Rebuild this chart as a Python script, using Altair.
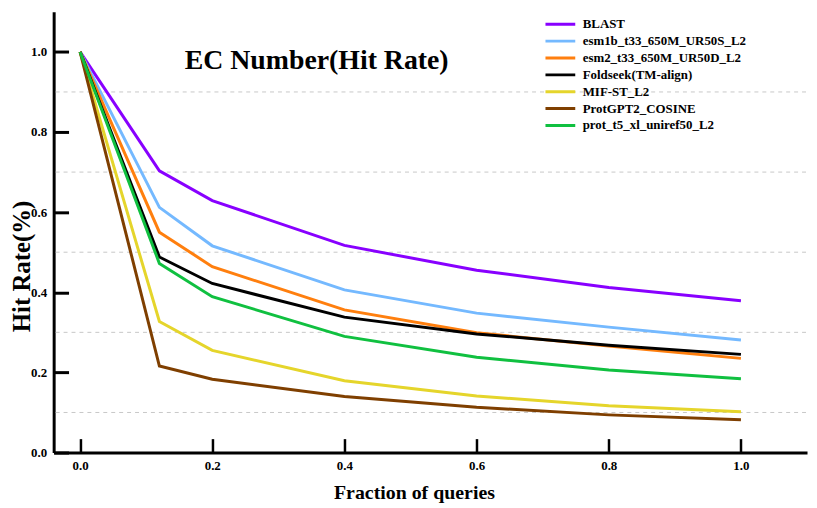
import altair as alt
import pandas as pd

# ---- data ----
fractions = [0.0, 0.12, 0.2, 0.4, 0.6, 0.8, 1.0]
series_names = [
    "BLAST",
    "esm1b_t33_650M_UR50S_L2",
    "esm2_t33_650M_UR50D_L2",
    "Foldseek(TM-align)",
    "MIF-ST_L2",
    "ProtGPT2_COSINE",
    "prot_t5_xl_uniref50_L2",
]
blast = [1.0, 0.703, 0.629, 0.517, 0.455, 0.412, 0.379]
esm1b = [1.0, 0.612, 0.516, 0.406, 0.348, 0.313, 0.281]
esm2 = [1.0, 0.550, 0.464, 0.356, 0.299, 0.266, 0.235]
foldseek = [1.0, 0.488, 0.422, 0.338, 0.296, 0.268, 0.245]
mifst = [1.0, 0.327, 0.255, 0.179, 0.141, 0.117, 0.102]
protgpt2 = [1.0, 0.216, 0.183, 0.140, 0.113, 0.094, 0.082]
prott5 = [1.0, 0.472, 0.389, 0.290, 0.238, 0.206, 0.184]
colors = ["#8800ff", "#74b9ff", "#ff7f0e", "#000000", "#e5d52b", "#7f3f00", "#10c040"]

x_ticks = [0.0, 0.2, 0.4, 0.6, 0.8, 1.0]
y_ticks = [0.0, 0.2, 0.4, 0.6, 0.8, 1.0]
grid_vals = [0.1, 0.3, 0.5, 0.7, 0.9]
title_text = "EC Number(Hit Rate)"

all_series = [blast, esm1b, esm2, foldseek, mifst, protgpt2, prott5]
rows = []
for name, vals in zip(series_names, all_series):
    for fx, v in zip(fractions, vals):
        rows.append({"series": name, "x": fx, "y": v})
df = pd.DataFrame(rows)

W, H = 759, 444
FONT = "Liberation Serif"

xscale = alt.Scale(domain=[-0.04, 1.1], nice=False, zero=False)
yscale = alt.Scale(domain=[0, 1.1], nice=False)

# inward-pointing ticks: negative tick size given as an expression,
# label padding enlarged by the same amount to keep labels outside
lines = alt.Chart(df).mark_line(strokeWidth=3).encode(
    x=alt.X("x:Q", scale=xscale,
            axis=alt.Axis(values=x_ticks, format=".1f", grid=False,
                          ticks=True, tickSize={"expr": "-14"}, tickWidth=2.5,
                          tickColor="black",
                          domainWidth=3, domainColor="black",
                          labelFont=FONT, labelFontWeight="bold", labelFontSize=13,
                          labelColor="black", labelPadding=21,
                          title="Fraction of queries", titleFont=FONT,
                          titleFontWeight="bold", titleFontSize=20, titleColor="black",
                          titleX=363, titleY=40, titleBaseline="middle")),
    y=alt.Y("y:Q", scale=yscale,
            axis=alt.Axis(values=y_ticks, format=".1f", grid=False,
                          ticks=True, tickSize={"expr": "-15"}, tickWidth=3,
                          tickColor="black",
                          domainWidth=3, domainColor="black",
                          labelFont=FONT, labelFontWeight="bold", labelFontSize=13,
                          labelColor="black", labelPadding=22,
                          title="Hit Rate(%)", titleFont=FONT,
                          titleFontWeight="bold", titleFontSize=25, titleColor="black",
                          titleX=-32, titleY=256, titleBaseline="middle")),
    color=alt.Color("series:N",
                    scale=alt.Scale(domain=series_names, range=colors),
                    legend=alt.Legend(orient="none", legendX=494, legendY=4,
                                      title=None, symbolType="stroke",
                                      symbolSize=900, symbolStrokeWidth=3,
                                      clipHeight=17, labelOffset=6,
                                      labelLimit=400,
                                      labelFont=FONT, labelFontWeight="bold",
                                      labelFontSize=13, labelColor="black",
                                      rowPadding=0, padding=0)),
)

grid = alt.Chart(pd.DataFrame({"gridval": grid_vals})).mark_rule(
    color="#c8c8c8", strokeWidth=1, strokeDash=[4, 4]
).encode(y=alt.Y("gridval:Q", scale=yscale), x=alt.value(2), x2=alt.value(W))

title = alt.Chart(pd.DataFrame({"label": [title_text]})).mark_text(
    font=FONT, fontWeight="bold", fontSize=28, color="black",
    align="center", baseline="middle"
).encode(text="label:N", x=alt.value(265), y=alt.value(50))

chart = alt.layer(grid, lines, title).properties(
    width=W, height=H,
    autosize=alt.AutoSizeParams(type="none"),
    padding={"left": 46, "top": 2, "right": 2, "bottom": 52},
).configure_view(stroke=None)

chart.save("out.html", embed_options={"renderer": "svg", "actions": False})
